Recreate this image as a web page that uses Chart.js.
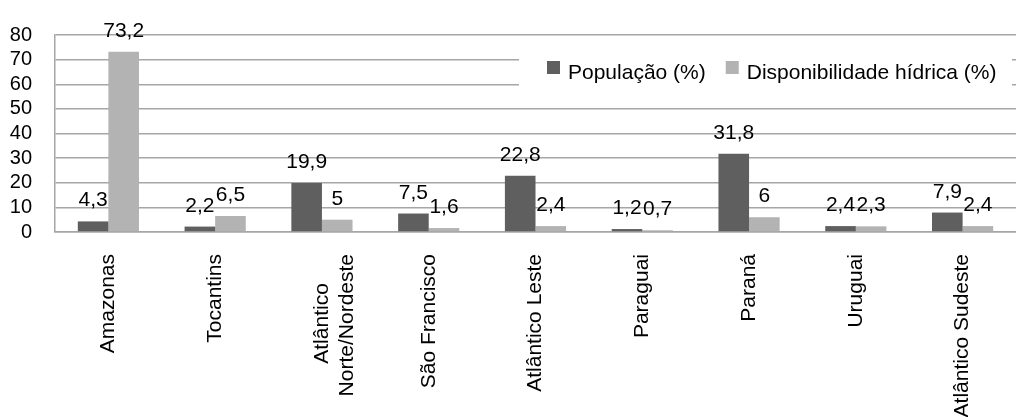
<!DOCTYPE html>
<html>
<head>
<meta charset="utf-8">
<script src="https://cdn.jsdelivr.net/npm/chart.js@4"></script>
<style>
  body { margin: 0; background: #fff; }
  canvas { display: block; }
</style>
</head>
<body>
<canvas id="grafico" width="1016" height="417"></canvas>
<script>
// Regiões hidrográficas
const regioes = [
  "Amazonas",
  "Tocantins",
  ["Atlântico     ", "Norte/Nordeste"],
  "São Francisco",
  "Atlântico Leste",
  "Paraguai",
  "Paraná",
  "Uruguai",
  "Atlântico Sudeste",
];
// Percentuais de cada série
const populacao = [4.3, 2.2, 19.9, 7.5, 22.8, 1.2, 31.8, 2.4, 7.9];
const disponibilidade = [73.2, 6.5, 5, 1.6, 2.4, 0.7, 6, 2.3, 2.4];
// Marcas do eixo y
const eixoY = { min: 0, max: 80, passo: 10 };

const fonte = "Liberation Sans, Arial, sans-serif";
const corGrade = "#a6a6a6";

// Rótulos de valor acima das barras (vírgula decimal)
const rotulosValor = {
  id: "rotulosValor",
  afterDatasetsDraw(chart) {
    const ctx = chart.ctx;
    ctx.save();
    ctx.font = `21px ${fonte}`;
    ctx.fillStyle = "#000";
    ctx.textAlign = "center";
    ctx.textBaseline = "alphabetic";
    chart.data.datasets.forEach((ds, i) => {
      chart.getDatasetMeta(i).data.forEach((bar, j) => {
        const txt = String(ds.data[j]).replace(".", ",");
        ctx.fillText(txt, bar.x, bar.y - 15);
      });
    });
    ctx.restore();
  },
};

// Legenda dentro da área do gráfico, com fundo branco
const legendaInterna = {
  id: "legendaInterna",
  afterDatasetsDraw(chart) {
    const ctx = chart.ctx;
    ctx.save();
    ctx.fillStyle = "#fff";
    ctx.fillRect(519, 40, 493, 56);
    ctx.font = `21px ${fonte}`;
    ctx.textBaseline = "alphabetic";
    let x = 547;
    chart.data.datasets.forEach((ds) => {
      ctx.fillStyle = ds.backgroundColor;
      ctx.fillRect(x, 61, 13, 13);
      ctx.fillStyle = "#000";
      ctx.fillText(ds.label, x + 21, 79);
      x += 21 + ctx.measureText(ds.label).width + 20;
    });
    ctx.restore();
  },
};

new Chart(document.getElementById("grafico"), {
  type: "bar",
  data: {
    labels: regioes,
    datasets: [
      { label: "População (%)", data: populacao, backgroundColor: "#5f5f5f" },
      { label: "Disponibilidade hídrica (%)", data: disponibilidade, backgroundColor: "#b3b3b3" },
    ],
  },
  options: {
    responsive: false,
    animation: false,
    layout: { padding: { left: 0, top: 27, right: -13, bottom: 0 } },
    datasets: { bar: { categoryPercentage: 0.573, barPercentage: 1 } },
    plugins: { legend: { display: false }, tooltip: { enabled: false } },
    scales: {
      x: {
        grid: { display: false, drawTicks: false },
        border: { color: corGrade, width: 1.5 },
        ticks: {
          color: "#000",
          font: { family: fonte, size: 21 },
          minRotation: 90,
          maxRotation: 90,
          padding: 22,
          autoSkip: false,
        },
        afterFit(scale) { scale.height = 185; },
      },
      y: {
        min: eixoY.min,
        max: eixoY.max,
        grid: { color: corGrade, lineWidth: 1.5, drawTicks: false },
        border: { color: corGrade, width: 1.5 },
        ticks: {
          stepSize: eixoY.passo,
          autoSkip: false,
          color: "#000",
          font: { family: fonte, size: 20 },
          padding: 23,
        },
        afterFit(scale) { scale.width = 55; },
      },
    },
  },
  plugins: [rotulosValor, legendaInterna],
});
</script>
</body>
</html>
